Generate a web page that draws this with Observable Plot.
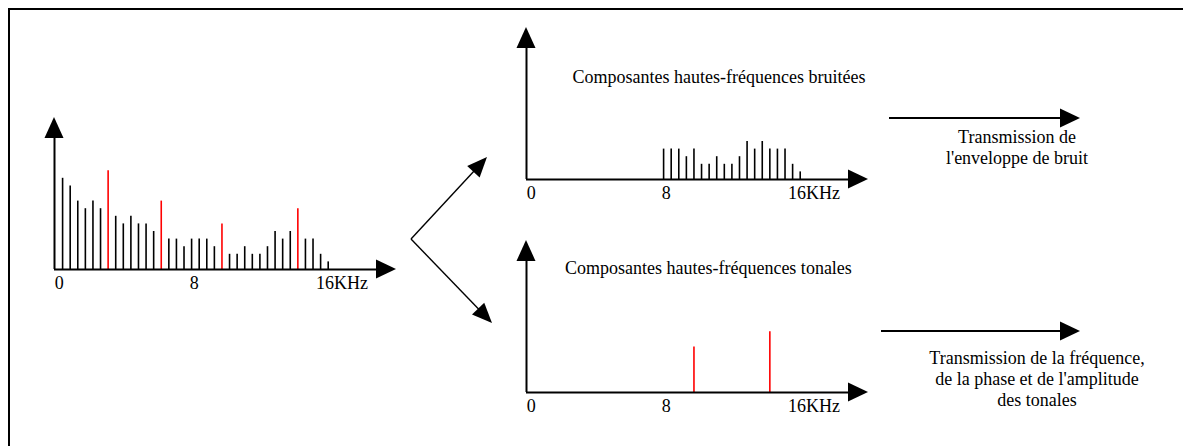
<!DOCTYPE html>
<html>
<head>
<meta charset="utf-8">
<script src="https://cdn.jsdelivr.net/npm/d3@7"></script>
<script src="https://cdn.jsdelivr.net/npm/@observablehq/plot@0.6"></script>
<style>
  html, body { margin: 0; padding: 0; background: #fff; }
  #stage { position: relative; width: 1183px; height: 446px; overflow: hidden; font-family: "Liberation Serif", "Times New Roman", serif; }
  #stage svg { overflow: visible; }
  .panel { position: absolute; }
  #overlay { position: absolute; left: 0; top: 0; }
</style>
</head>
<body>
<div id="stage"></div>
<script>
// ---- data (frequencies in kHz, levels in arbitrary units) ----
const spectrumFreqs = [0.2, 0.65, 1.1, 1.55, 2.0, 2.45, 2.9, 3.35, 3.8, 4.25, 4.7, 5.15, 5.6, 6.05, 6.5, 6.95, 7.4, 7.85, 8.3, 8.75, 9.2, 9.65, 10.1, 10.55, 11.0, 11.45, 11.9, 12.35, 12.8, 13.25, 13.7, 14.15, 14.6, 15.05, 15.5, 15.95];
const spectrumLevels = [12, 11, 9, 8, 9, 8, 13, 7, 6, 7, 6, 6, 5, 9, 4, 4, 3, 4, 4, 4, 3, 6, 2, 2, 3, 2, 2, 3, 5, 4, 5, 8, 4, 4, 2, 1];
const spectrumTonal = [false, false, false, false, false, false, true, false, false, false, false, false, false, true, false, false, false, false, false, false, false, true, false, false, false, false, false, false, false, false, false, true, false, false, false, false];

const noiseFreqs = [7.85, 8.3, 8.75, 9.2, 9.65, 10.1, 10.55, 11.0, 11.45, 11.9, 12.35, 12.8, 13.25, 13.7, 14.15, 14.6, 15.05, 15.5, 15.95];
const noiseLevels = [4, 4, 4, 3, 4, 2, 2, 3, 2, 2, 3, 5, 4, 5, 4, 4, 4, 2, 1];

const tonalFreqs = [9.65, 14.15];
const tonalLevels = [6, 8];

const tickValues = [0, 8, 16];
const tickLabels = ["0", "8", "16KHz"];

const noiseTitle = "Composantes hautes-fréquences bruitées";
const tonalTitle = "Composantes hautes-fréquences tonales";
const noiseNote = ["Transmission de", "l'enveloppe de bruit"];
const tonalNote = ["Transmission de la fréquence,", "de la phase et de l'amplitude", "des tonales"];

// ---- helpers ----
const FONT = "Liberation Serif";
const X_DOMAIN = [-0.28, 20];
const Y_DOMAIN = [0, 20];

function panel({left, top, black, red, title, titleX, titleY}) {
  const marks = [];
  if (black.length) marks.push(Plot.ruleX(black, {x: "f", y1: 0, y2: "v", stroke: "black", strokeWidth: 1.6}));
  if (red.length) marks.push(Plot.ruleX(red, {x: "f", y1: 0, y2: "v", stroke: "#ff0000", strokeWidth: 1.6}));
  marks.push(Plot.ruleY([0], {x1: X_DOMAIN[0], x2: 19.3, stroke: "black", strokeWidth: 2}));
  marks.push(Plot.ruleX([X_DOMAIN[0]], {y1: 0, y2: 19.3, stroke: "black", strokeWidth: 2}));
  marks.push(Plot.text(tickValues.slice(0, 2), {x: d => d, y: 0, dy: 14, text: (d, i) => tickLabels[i], fontSize: 18, fill: "black"}));
  marks.push(Plot.text([tickValues[2]], {x: d => d, y: 0, dy: 14, dx: -13, text: () => tickLabels[2], textAnchor: "start", fontSize: 18, fill: "black"}));
  if (title) marks.push(Plot.text([title], {x: titleX, y: titleY, text: d => d, textAnchor: "start", fontSize: 18, fill: "black"}));
  const plot = Plot.plot({
    width: 362, height: 192,
    marginLeft: 10, marginRight: 10, marginTop: 10, marginBottom: 30,
    x: {domain: X_DOMAIN, axis: null},
    y: {domain: Y_DOMAIN, axis: null},
    style: {fontFamily: FONT, fontSize: "18px", background: "transparent", overflow: "visible"},
    marks
  });
  // filled arrowheads at the axis ends, placed with the plot's scales
  const sx = plot.scale("x"), sy = plot.scale("y");
  const x0 = sx.apply(X_DOMAIN[0]), x1 = sx.apply(X_DOMAIN[1]);
  const y0 = sy.apply(0), y1 = sy.apply(Y_DOMAIN[1]);
  const g = d3.select(plot).append("g").attr("fill", "black");
  g.append("path").attr("d", `M${x1},${y0} L${x1 - 20},${y0 - 9.5} L${x1 - 20},${y0 + 9.5} Z`);
  g.append("path").attr("d", `M${x0},${y1} L${x0 - 9.5},${y1 + 21} L${x0 + 9.5},${y1 + 21} Z`);
  plot.classList.add("panel");
  plot.style.left = left + "px";
  plot.style.top = top + "px";
  document.getElementById("stage").appendChild(plot);
}

const spectrum = spectrumFreqs.map((f, i) => ({f, v: spectrumLevels[i], tonal: spectrumTonal[i]}));
panel({left: 43.5, top: 107, black: spectrum.filter(d => !d.tonal), red: spectrum.filter(d => d.tonal)});
panel({left: 515.5, top: 17, black: noiseFreqs.map((f, i) => ({f, v: noiseLevels[i]})), red: [], title: noiseTitle, titleX: 2.45, titleY: 13.4});
panel({left: 516, top: 230, black: [], red: tonalFreqs.map((f, i) => ({f, v: tonalLevels[i]})), title: tonalTitle, titleX: 2.0, titleY: 16.4});

// ---- diagram overlay: frame, branching arrows, transmission notes ----
const svg = d3.select("#stage").append("svg").attr("id", "overlay").attr("width", 1183).attr("height", 446);
svg.append("path").attr("d", "M9,446 L9,9 L1183,9").attr("fill", "none").attr("stroke", "black").attr("stroke-width", 2);

function arrow(ax, ay, bx, by, w, len, hw) {
  const dx = bx - ax, dy = by - ay, L = Math.hypot(dx, dy), ux = dx / L, uy = dy / L;
  const bxs = bx - ux * len, bys = by - uy * len;
  svg.append("line").attr("x1", ax).attr("y1", ay).attr("x2", bxs + ux * 2).attr("y2", bys + uy * 2)
    .attr("stroke", "black").attr("stroke-width", w);
  svg.append("path").attr("fill", "black")
    .attr("d", `M${bx},${by} L${bxs - uy * hw},${bys + ux * hw} L${bxs + uy * hw},${bys - ux * hw} Z`);
}
arrow(411, 239, 487, 157, 1.4, 20, 8.5);
arrow(411, 239, 492, 323, 1.4, 20, 8.5);
arrow(889, 118, 1080, 118, 2, 20, 9.5);
arrow(881, 331, 1080, 331, 2, 20, 9.5);

function note(lines, cx, cy, step) {
  lines.forEach((t, i) => {
    svg.append("text").attr("x", cx).attr("y", cy + i * step).attr("dy", "0.32em")
      .attr("text-anchor", "middle").attr("font-family", FONT).attr("font-size", 18).attr("fill", "black").text(t);
  });
}
note(noiseNote, 1017, 137, 21);
note(tonalNote, 1037, 358, 21);
</script>
</body>
</html>
